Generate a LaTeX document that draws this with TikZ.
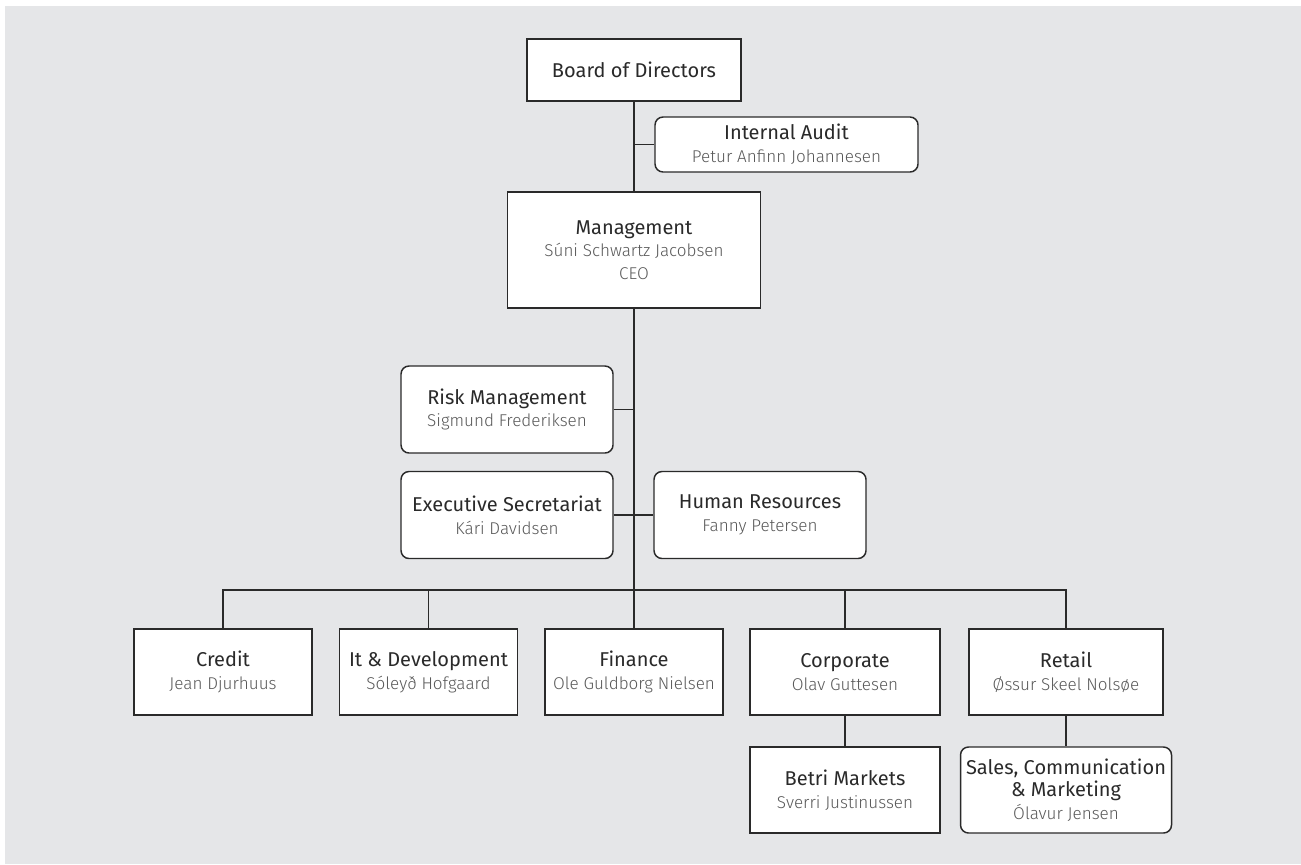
\documentclass[tikz,border=0pt]{standalone}
\usepackage{fontspec}
\setmainfont{Fira Sans}
\newfontfamily\lightfont{Fira Sans Light}
\usepackage{xcolor}
\usepackage{tikz}
\definecolor{paper}{HTML}{E5E6E8}
\definecolor{ink}{HTML}{2A2A2A}
\definecolor{namegrey}{HTML}{595959}
\newcommand{\who}[1]{{\lightfont\fontsize{12.8}{17}\selectfont\color{namegrey}#1}}

\begin{document}
\begin{tikzpicture}[
  x=0.75pt, y=-0.75pt,
  dept/.style={rectangle, draw=ink, fill=white, line width=1.1pt, inner sep=0pt,
    align=center, text=ink, font=\fontsize{15}{17}\selectfont},
  staff/.style={dept, rounded corners=6pt},
  link/.style={draw=ink, line width=1.1pt}
]
  \fill[white] (0,0) rectangle (1301,864);
  \fill[paper] (5,6) rectangle (1301,864);
  \useasboundingbox (0,0) rectangle (1301,864);

  \node[dept, minimum width=160.5pt, minimum height=46.5pt] (board) at (634,70) {Board of Directors};
  \node[staff, minimum width=197.25pt, minimum height=41.25pt] (audit) at (786.5,144.5)
    {Internal Audit\\\who{Petur Anfinn Johannesen}};
  \node[dept, minimum width=189.75pt, minimum height=87pt] (mgmt) at (634,250)
    {Management\\\who{Súni Schwartz Jacobsen}\\\who{CEO}};

  \node[staff, minimum width=159pt, minimum height=65.25pt] (risk) at (507,409.5)
    {Risk Management\\\who{Sigmund Frederiksen}};
  \node[staff, minimum width=159pt, minimum height=65.25pt] (exec) at (507,515)
    {Executive Secretariat\\\who{Kári Davidsen}};
  \node[staff, minimum width=159pt, minimum height=65.25pt] (hr) at (760,515)
    {Human Resources\\\who{Fanny Petersen}};

  \node[dept, minimum width=133.5pt, minimum height=64.5pt] (credit) at (223,672)
    {Credit\\\who{Jean Djurhuus}};
  \node[dept, minimum width=133.5pt, minimum height=64.5pt] (itdev) at (428.5,672)
    {It \& Development\\\who{Sóleyð Hofgaard}};
  \node[dept, minimum width=133.5pt, minimum height=64.5pt] (finance) at (634,672)
    {Finance\\\who{Ole Guldborg Nielsen}};
  \node[dept, minimum width=142.5pt, minimum height=64.5pt] (corp) at (845,672)
    {Corporate\\\who{Olav Guttesen}};
  \node[dept, minimum width=145.5pt, minimum height=64.5pt] (retail) at (1066,672)
    {Retail\\\who{Øssur Skeel Nolsøe}};
  \node[dept, minimum width=142.5pt, minimum height=64.5pt] (betri) at (845,790)
    {Betri Markets\\\who{Sverri Justinussen}};
  \node[staff, minimum width=158.25pt, minimum height=64.5pt] (sales) at (1066,790)
    {Sales, Communication\\\& Marketing\\\who{Ólavur Jensen}};

  \coordinate (bus) at (634,590);

  \draw[link] (board) -- (mgmt);
  \draw[link] (board.south |- audit.west) -- (audit.west);
  \draw[link] (mgmt) -- (bus) -- (finance);
  \draw[link] (risk.east) -- (mgmt.south |- risk.east);
  \draw[link] (exec) -- (hr);
  \draw[link] (credit) |- (bus) -| (retail);
  \draw[link] (itdev) -- (itdev |- bus);
  \draw[link] (corp) -- (corp |- bus);
  \draw[link] (corp) -- (betri);
  \draw[link] (retail) -- (sales);
\end{tikzpicture}
\end{document}
